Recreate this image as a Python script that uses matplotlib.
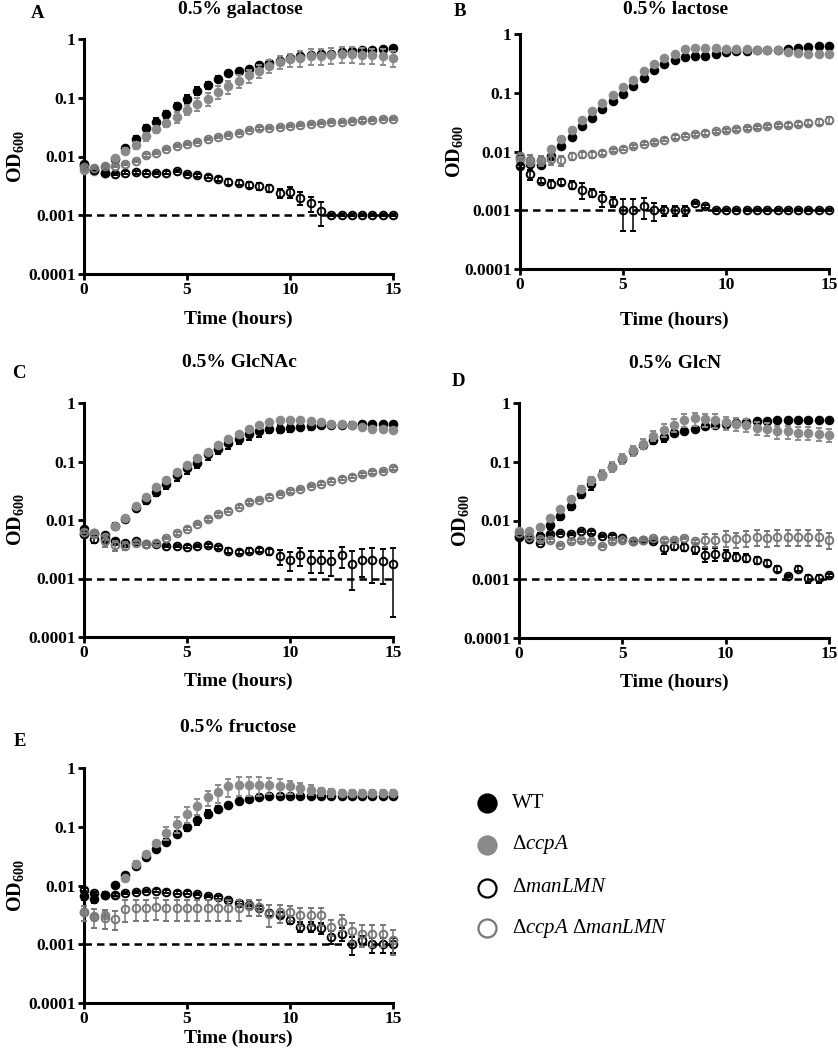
import numpy as np
import matplotlib.pyplot as plt
from matplotlib.lines import Line2D
from matplotlib.ticker import NullLocator

plt.rcParams['font.family'] = ['Liberation Serif', 'DejaVu Serif']
plt.rcParams['font.weight'] = 'bold'
plt.rcParams['mathtext.fontset'] = 'custom'
plt.rcParams['mathtext.rm'] = 'Liberation Serif:normal'
plt.rcParams['mathtext.it'] = 'Liberation Serif:italic:normal'
plt.rcParams['mathtext.bf'] = 'Liberation Serif:bold'

# --- data (OD600, relative SD) ---
hours = [0, 0.5, 1, 1.5, 2, 2.5, 3, 3.5, 4, 4.5, 5, 5.5, 6, 6.5, 7, 7.5,
         8, 8.5, 9, 9.5, 10, 10.5, 11, 11.5, 12, 12.5, 13, 13.5, 14, 14.5, 15]
detection_limit = 0.001
strains = ['WT', '$\\Delta\\mathit{ccpA}$', '$\\Delta\\mathit{manLMN}$',
           '$\\Delta\\mathit{ccpA}$ $\\Delta\\mathit{manLMN}$']

# A: galactose
a_wt = [0.0071, 0.0059, 0.0052, 0.0090, 0.0137, 0.020, 0.030, 0.039, 0.052, 0.072, 0.096, 0.13, 0.163, 0.21, 0.26, 0.285,
        0.31, 0.36, 0.39, 0.43, 0.48, 0.51, 0.53, 0.55, 0.56, 0.59, 0.62, 0.64, 0.66, 0.68, 0.69]
a_ccpa = [0.0059, 0.0057, 0.0067, 0.0093, 0.0125, 0.0155, 0.022, 0.029, 0.037, 0.047, 0.063, 0.078, 0.096, 0.126, 0.157, 0.193,
          0.24, 0.285, 0.35, 0.41, 0.45, 0.48, 0.51, 0.52, 0.54, 0.56, 0.56, 0.54, 0.53, 0.51, 0.48]
a_man = [0.0074, 0.0059, 0.0052, 0.0050, 0.0053, 0.0054, 0.0053, 0.0052, 0.0053, 0.0057, 0.0050, 0.0048, 0.0045, 0.0042, 0.0037, 0.0036,
         0.0033, 0.0031, 0.0029, 0.0024, 0.0025, 0.0020, 0.0016, 0.00118, 0.001, 0.001, 0.001, 0.001, 0.001, 0.001, 0.001]
a_dbl = [0.0067, 0.0063, 0.0069, 0.0069, 0.0076, 0.0085, 0.0104, 0.0115, 0.0133, 0.0152, 0.0166, 0.018, 0.020, 0.0216, 0.023, 0.025,
         0.028, 0.030, 0.031, 0.032, 0.033, 0.034, 0.036, 0.037, 0.038, 0.039, 0.040, 0.041, 0.042, 0.043, 0.043]
a_wt_sd = [0.05, 0.05, 0.06, 0.08, 0.12, 0.12, 0.15, 0.15, 0.15, 0.12, 0.15, 0.15, 0.15, 0.12, 0.1, 0.08,
           0.08, 0.08, 0.06, 0.05, 0.05, 0.05, 0.05, 0.05, 0.05, 0.05, 0.05, 0.05, 0.05, 0.05, 0.05]
a_ccpa_sd = [0.05, 0.05, 0.06, 0.08, 0.1, 0.12, 0.15, 0.15, 0.15, 0.2, 0.2, 0.25, 0.25, 0.25, 0.25, 0.25,
             0.25, 0.25, 0.25, 0.25, 0.25, 0.3, 0.3, 0.3, 0.3, 0.3, 0.3, 0.3, 0.3, 0.3, 0.3]
a_man_sd = [0.05, 0.05, 0.05, 0.05, 0.05, 0.05, 0.05, 0.05, 0.05, 0.05, 0.05, 0.05, 0.06, 0.08, 0.1, 0.1,
            0.12, 0.12, 0.15, 0.18, 0.2, 0.25, 0.3, 0.45, 0.03, 0.03, 0.03, 0.03, 0.03, 0.03, 0.03]
a_dbl_sd = [0.04, 0.04, 0.04, 0.04, 0.04, 0.04, 0.04, 0.04, 0.04, 0.04, 0.04, 0.04, 0.04, 0.04, 0.04, 0.04,
            0.04, 0.04, 0.04, 0.04, 0.04, 0.04, 0.04, 0.04, 0.04, 0.04, 0.04, 0.04, 0.04, 0.04, 0.04]

# B: lactose
b_wt = [0.0078, 0.0062, 0.0058, 0.0085, 0.0123, 0.018, 0.027, 0.037, 0.052, 0.071, 0.096, 0.132, 0.178, 0.24, 0.31, 0.365,
        0.40, 0.42, 0.43, 0.46, 0.49, 0.51, 0.52, 0.53, 0.53, 0.54, 0.55, 0.57, 0.60, 0.62, 0.63]
b_ccpa = [0.0073, 0.0066, 0.0068, 0.011, 0.0163, 0.0236, 0.035, 0.048, 0.067, 0.090, 0.124, 0.167, 0.232, 0.31, 0.39, 0.46,
          0.555, 0.58, 0.58, 0.58, 0.56, 0.56, 0.56, 0.54, 0.53, 0.53, 0.50, 0.48, 0.46, 0.45, 0.45]
b_man = [0.0056, 0.0041, 0.0032, 0.0028, 0.0030, 0.0027, 0.0022, 0.0020, 0.0016, 0.0014, 0.001, 0.001, 0.00117, 0.001, 0.001, 0.001,
         0.001, 0.00133, 0.00117, 0.001, 0.001, 0.001, 0.001, 0.001, 0.001, 0.001, 0.001, 0.001, 0.001, 0.001, 0.001]
b_dbl = [0.0083, 0.0073, 0.0071, 0.0075, 0.0071, 0.0083, 0.0089, 0.0089, 0.0094, 0.0105, 0.0112, 0.0122, 0.0135, 0.0145, 0.0159, 0.0177,
         0.0186, 0.0198, 0.0207, 0.022, 0.023, 0.024, 0.025, 0.026, 0.027, 0.028, 0.028, 0.029, 0.031, 0.032, 0.034]
b_wt_sd = [0.05, 0.05, 0.05, 0.05, 0.05, 0.05, 0.05, 0.05, 0.05, 0.05, 0.05, 0.05, 0.05, 0.05, 0.05, 0.05,
           0.05, 0.05, 0.05, 0.05, 0.05, 0.05, 0.05, 0.05, 0.05, 0.05, 0.05, 0.05, 0.05, 0.05, 0.05]
b_ccpa_sd = [0.05, 0.05, 0.05, 0.05, 0.05, 0.05, 0.05, 0.05, 0.05, 0.05, 0.05, 0.05, 0.05, 0.05, 0.05, 0.05,
             0.05, 0.05, 0.05, 0.05, 0.05, 0.05, 0.05, 0.05, 0.05, 0.05, 0.05, 0.05, 0.05, 0.05, 0.05]
b_man_sd = [0.05, 0.2, 0.1, 0.15, 0.12, 0.15, 0.3, 0.15, 0.3, 0.2, 0.55, 0.55, 0.4, 0.35, 0.2, 0.2,
            0.2, 0.05, 0.05, 0.03, 0.03, 0.03, 0.03, 0.03, 0.03, 0.03, 0.03, 0.03, 0.03, 0.03, 0.03]
b_dbl_sd = [0.1, 0.2, 0.2, 0.2, 0.2, 0.15, 0.12, 0.12, 0.08, 0.06, 0.06, 0.06, 0.06, 0.06, 0.06, 0.06,
            0.06, 0.06, 0.06, 0.06, 0.06, 0.06, 0.06, 0.06, 0.06, 0.06, 0.08, 0.08, 0.1, 0.12, 0.15]

# C: GlcNAc
c_wt = [0.0069, 0.0059, 0.0055, 0.0080, 0.0103, 0.0159, 0.022, 0.030, 0.042, 0.059, 0.076, 0.095, 0.133, 0.166, 0.208, 0.246,
        0.29, 0.33, 0.355, 0.365, 0.38, 0.39, 0.40, 0.42, 0.42, 0.42, 0.42, 0.43, 0.43, 0.43, 0.43]
c_ccpa = [0.0058, 0.0061, 0.0052, 0.0079, 0.011, 0.0173, 0.025, 0.036, 0.049, 0.066, 0.087, 0.117, 0.148, 0.19, 0.243, 0.296,
          0.355, 0.416, 0.475, 0.506, 0.52, 0.52, 0.49, 0.475, 0.44, 0.43, 0.42, 0.39, 0.365, 0.355, 0.34]
c_man = [0.0058, 0.0047, 0.0047, 0.0043, 0.0040, 0.0044, 0.0039, 0.0039, 0.0036, 0.0036, 0.0035, 0.0036, 0.0037, 0.0034, 0.0030, 0.0028,
         0.0030, 0.0031, 0.0029, 0.0024, 0.0021, 0.0025, 0.0021, 0.0021, 0.0020, 0.0025, 0.0018, 0.0021, 0.0021, 0.0020, 0.0018]
c_dbl = [0.0063, 0.0058, 0.0044, 0.0037, 0.0036, 0.0041, 0.0039, 0.0040, 0.0049, 0.0059, 0.0071, 0.0085, 0.0103, 0.0125, 0.0144, 0.0169,
         0.020, 0.022, 0.025, 0.028, 0.031, 0.034, 0.038, 0.042, 0.047, 0.051, 0.055, 0.060, 0.065, 0.069, 0.076]
c_wt_sd = [0.05, 0.1, 0.1, 0.1, 0.1, 0.12, 0.15, 0.15, 0.2, 0.2, 0.2, 0.2, 0.2, 0.2, 0.2, 0.2,
           0.2, 0.2, 0.15, 0.15, 0.15, 0.12, 0.12, 0.12, 0.12, 0.12, 0.12, 0.12, 0.12, 0.12, 0.12]
c_ccpa_sd = [0.05, 0.05, 0.05, 0.05, 0.05, 0.05, 0.05, 0.05, 0.05, 0.05, 0.05, 0.05, 0.05, 0.05, 0.05, 0.05,
             0.05, 0.05, 0.05, 0.05, 0.05, 0.05, 0.05, 0.05, 0.05, 0.05, 0.05, 0.05, 0.05, 0.05, 0.05]
c_man_sd = [0.05, 0.15, 0.12, 0.1, 0.08, 0.05, 0.05, 0.05, 0.05, 0.05, 0.05, 0.05, 0.05, 0.06, 0.1, 0.08,
            0.1, 0.08, 0.12, 0.3, 0.35, 0.35, 0.4, 0.4, 0.45, 0.4, 0.65, 0.5, 0.6, 0.6, 0.88]
c_dbl_sd = [0.05, 0.1, 0.2, 0.2, 0.15, 0.05, 0.05, 0.05, 0.05, 0.05, 0.05, 0.05, 0.05, 0.05, 0.05, 0.05,
            0.05, 0.05, 0.05, 0.05, 0.05, 0.05, 0.05, 0.05, 0.05, 0.05, 0.05, 0.05, 0.05, 0.05, 0.05]

# D: GlcN
d_wt = [0.0054, 0.0052, 0.0055, 0.0085, 0.012, 0.0177, 0.028, 0.042, 0.060, 0.083, 0.111, 0.154, 0.195, 0.237, 0.26, 0.31,
        0.33, 0.365, 0.40, 0.43, 0.445, 0.46, 0.47, 0.49, 0.50, 0.51, 0.51, 0.51, 0.52, 0.52, 0.52]
d_ccpa = [0.0066, 0.0066, 0.0079, 0.011, 0.0156, 0.023, 0.035, 0.048, 0.060, 0.083, 0.115, 0.156, 0.203, 0.277, 0.35, 0.43,
          0.52, 0.55, 0.53, 0.51, 0.47, 0.445, 0.42, 0.375, 0.36, 0.33, 0.33, 0.31, 0.31, 0.30, 0.29]
d_man = [0.0052, 0.0048, 0.0042, 0.0059, 0.0061, 0.0059, 0.0066, 0.0063, 0.0055, 0.0054, 0.0050, 0.0045, 0.0046, 0.0044, 0.0034, 0.0037,
         0.0036, 0.0033, 0.0026, 0.0027, 0.0026, 0.0024, 0.0023, 0.0021, 0.0019, 0.00152, 0.00114, 0.00152, 0.00103, 0.00103, 0.00117]
d_dbl = [0.0061, 0.0053, 0.0048, 0.0046, 0.0038, 0.0044, 0.0046, 0.0044, 0.0037, 0.0044, 0.0046, 0.0044, 0.0047, 0.0050, 0.0046, 0.0047,
         0.0050, 0.0044, 0.0047, 0.0047, 0.0050, 0.0048, 0.0050, 0.0053, 0.0050, 0.0052, 0.0052, 0.0052, 0.0052, 0.0052, 0.0047]
d_wt_sd = [0.1, 0.1, 0.1, 0.15, 0.15, 0.15, 0.15, 0.2, 0.1, 0.1, 0.1, 0.1, 0.1, 0.15, 0.15, 0.12,
           0.05, 0.05, 0.05, 0.05, 0.05, 0.05, 0.05, 0.05, 0.05, 0.05, 0.05, 0.05, 0.05, 0.05, 0.05]
d_ccpa_sd = [0.05, 0.05, 0.05, 0.05, 0.05, 0.05, 0.1, 0.15, 0.2, 0.2, 0.2, 0.2, 0.2, 0.2, 0.25, 0.25,
             0.25, 0.25, 0.25, 0.25, 0.25, 0.25, 0.25, 0.25, 0.25, 0.25, 0.25, 0.25, 0.25, 0.25, 0.25]
d_man_sd = [0.05, 0.05, 0.05, 0.05, 0.05, 0.05, 0.05, 0.05, 0.05, 0.05, 0.05, 0.05, 0.05, 0.05, 0.2, 0.15,
            0.15, 0.2, 0.25, 0.25, 0.2, 0.15, 0.15, 0.12, 0.12, 0.12, 0.05, 0.1, 0.15, 0.15, 0.05]
d_dbl_sd = [0.05, 0.05, 0.05, 0.05, 0.05, 0.05, 0.05, 0.05, 0.05, 0.05, 0.05, 0.05, 0.05, 0.05, 0.05, 0.05,
            0.05, 0.05, 0.25, 0.25, 0.3, 0.3, 0.3, 0.3, 0.3, 0.3, 0.3, 0.3, 0.3, 0.3, 0.3]

# E: fructose
e_wt = [0.0066, 0.0060, 0.0070, 0.0102, 0.015, 0.0216, 0.030, 0.042, 0.056, 0.076, 0.099, 0.132, 0.166, 0.203, 0.237, 0.27,
        0.296, 0.316, 0.33, 0.33, 0.34, 0.34, 0.34, 0.34, 0.34, 0.34, 0.34, 0.34, 0.34, 0.34, 0.33]
e_ccpa = [0.0036, 0.0030, 0.0032, 0.0069, 0.0133, 0.0234, 0.034, 0.053, 0.078, 0.112, 0.166, 0.228, 0.316, 0.385, 0.49, 0.52,
          0.52, 0.52, 0.52, 0.50, 0.49, 0.46, 0.43, 0.40, 0.385, 0.375, 0.375, 0.375, 0.375, 0.375, 0.375]
e_man = [0.0085, 0.0075, 0.0070, 0.0070, 0.0075, 0.0077, 0.0081, 0.0082, 0.0079, 0.0076, 0.0076, 0.0072, 0.0066, 0.0063, 0.0057, 0.0051,
         0.0047, 0.0042, 0.0034, 0.0032, 0.0026, 0.0020, 0.0020, 0.0019, 0.00135, 0.0015, 0.001, 0.0012, 0.001, 0.001, 0.001]
e_dbl = [0.0035, 0.0029, 0.0028, 0.0027, 0.0040, 0.0041, 0.0041, 0.0043, 0.0041, 0.0041, 0.0041, 0.0041, 0.0041, 0.0041, 0.0041, 0.0041,
         0.0044, 0.0043, 0.0033, 0.0035, 0.0035, 0.0031, 0.0031, 0.0031, 0.0020, 0.0024, 0.0017, 0.0015, 0.0015, 0.0015, 0.0012]
e_wt_sd = [0.15, 0.15, 0.1, 0.08, 0.08, 0.08, 0.08, 0.08, 0.1, 0.1, 0.15, 0.2, 0.15, 0.1, 0.08, 0.05,
           0.05, 0.05, 0.05, 0.05, 0.05, 0.05, 0.05, 0.05, 0.05, 0.05, 0.05, 0.05, 0.05, 0.05, 0.05]
e_ccpa_sd = [0.1, 0.1, 0.1, 0.1, 0.1, 0.1, 0.1, 0.1, 0.25, 0.3, 0.3, 0.3, 0.3, 0.35, 0.35, 0.35,
             0.35, 0.35, 0.3, 0.3, 0.25, 0.2, 0.2, 0.15, 0.15, 0.12, 0.12, 0.12, 0.12, 0.12, 0.12]
e_man_sd = [0.05, 0.05, 0.05, 0.05, 0.05, 0.05, 0.05, 0.05, 0.05, 0.05, 0.05, 0.05, 0.05, 0.05, 0.05, 0.05,
            0.05, 0.05, 0.1, 0.1, 0.15, 0.2, 0.2, 0.2, 0.25, 0.25, 0.35, 0.15, 0.3, 0.3, 0.3]
e_dbl_sd = [0.3, 0.35, 0.35, 0.35, 0.4, 0.4, 0.4, 0.4, 0.4, 0.4, 0.4, 0.4, 0.4, 0.4, 0.4, 0.4,
            0.3, 0.3, 0.4, 0.35, 0.3, 0.35, 0.35, 0.35, 0.3, 0.3, 0.35, 0.4, 0.4, 0.4, 0.45]

# --- layout (pixel positions in the 838x1050 figure) ---
W, H = 838, 1050
panels = [
    dict(series=[a_wt, a_ccpa, a_man, a_dbl], sds=[a_wt_sd, a_ccpa_sd, a_man_sd, a_dbl_sd],
         box=(84, 39, 393, 274), title='0.5% galactose', title_xy=(240, 10), letter='A', letter_xy=(38, 14),
         ylab_x=15, xlab_y=319),
    dict(series=[b_wt, b_ccpa, b_man, b_dbl], sds=[b_wt_sd, b_ccpa_sd, b_man_sd, b_dbl_sd],
         box=(520, 34, 829, 269), title='0.5% lactose', title_xy=(676, 9), letter='B', letter_xy=(460, 12),
         ylab_x=454, xlab_y=320),
    dict(series=[c_wt, c_ccpa, c_man, c_dbl], sds=[c_wt_sd, c_ccpa_sd, c_man_sd, c_dbl_sd],
         box=(84, 403, 393, 637), title='0.5% GlcNAc', title_xy=(239, 363), letter='C', letter_xy=(19, 373),
         ylab_x=15, xlab_y=681),
    dict(series=[d_wt, d_ccpa, d_man, d_dbl], sds=[d_wt_sd, d_ccpa_sd, d_man_sd, d_dbl_sd],
         box=(519, 403, 829, 638), title='0.5% GlcN', title_xy=(675, 364), letter='D', letter_xy=(458, 382),
         ylab_x=460, xlab_y=682),
    dict(series=[e_wt, e_ccpa, e_man, e_dbl], sds=[e_wt_sd, e_ccpa_sd, e_man_sd, e_dbl_sd],
         box=(84, 768, 393, 1003), title='0.5% fructose', title_xy=(238, 727), letter='E', letter_xy=(20, 742),
         ylab_x=15, xlab_y=1038),
]

styles = [
    dict(mfc='black', mec='black', ecolor='black'),
    dict(mfc='#8a8a8a', mec='#8a8a8a', ecolor='#8a8a8a'),
    dict(mfc='none', mec='black', ecolor='black'),
    dict(mfc='none', mec='#777777', ecolor='#777777'),
]


def fx(x):
    return x / W


def fy(y):
    return 1 - y / H


fig = plt.figure(figsize=(W / 100, H / 100), dpi=100)

for p in panels:
    l, t, r, b = p['box']
    ax = fig.add_axes([fx(l), fy(b), (r - l) / W, (b - t) / H])
    ax.plot([hours[0], hours[-1]], [detection_limit, detection_limit], color='black',
            lw=1.8, ls=(0, (3, 2)), zorder=1)
    for k, (vals, sd, st) in enumerate(zip(p['series'], p['sds'], styles)):
        v = np.array(vals)
        err = v * np.array(sd)
        cont = ax.errorbar(hours, v, yerr=err, fmt='o', ms=5.5, mew=1.4, capsize=2,
                           elinewidth=1.1, capthick=1.1, zorder=2 + k, **st)
        cont[0].set_clip_on(False)
        for art in list(cont[1]) + list(cont[2]):
            art.set_clip_on(False)
    ax.set_yscale('log')
    ax.set_ylim(1e-4, 1)
    ax.set_xlim(0, 15)
    ax.set_yticks([1e-4, 1e-3, 1e-2, 1e-1, 1])
    ax.set_yticklabels(['0.0001', '0.001', '0.01', '0.1', '1'])
    ax.yaxis.set_minor_locator(NullLocator())
    ax.set_xticks([0, 5, 10, 15])
    for s in ['top', 'right']:
        ax.spines[s].set_visible(False)
    for s in ['left', 'bottom']:
        ax.spines[s].set_linewidth(2.2)
    ax.tick_params(width=2, length=4, labelsize=12.5, pad=2)

    fig.text(fx(p['title_xy'][0]), fy(p['title_xy'][1]), p['title'], ha='center', va='center', fontsize=14)
    fig.text(fx(p['letter_xy'][0]), fy(p['letter_xy'][1]), p['letter'], ha='center', va='center', fontsize=13.5)
    fig.text(fx(p['ylab_x']), fy((t + b) / 2), 'OD$_{\\mathbf{600}}$', rotation=90,
             ha='center', va='center', fontsize=14.5)
    fig.text(fx((l + r) / 2), fy(p['xlab_y']), 'Time (hours)', ha='center', va='center', fontsize=14)

# legend drawn on the figure
leg_x, leg_text_x = 487, 512
leg_rows = [803, 845, 888, 928]
for lab, st, yy in zip(strains, styles, leg_rows):
    fig.add_artist(Line2D([fx(leg_x)], [fy(yy)], transform=fig.transFigure, marker='o', ls='none',
                          ms=13, mew=1.6, mfc=st['mfc'], mec=st['mec']))
    fig.text(fx(leg_text_x), fy(yy), lab, ha='left', va='center', fontsize=15, fontweight='normal')

fig.savefig('out.png', dpi=100)
